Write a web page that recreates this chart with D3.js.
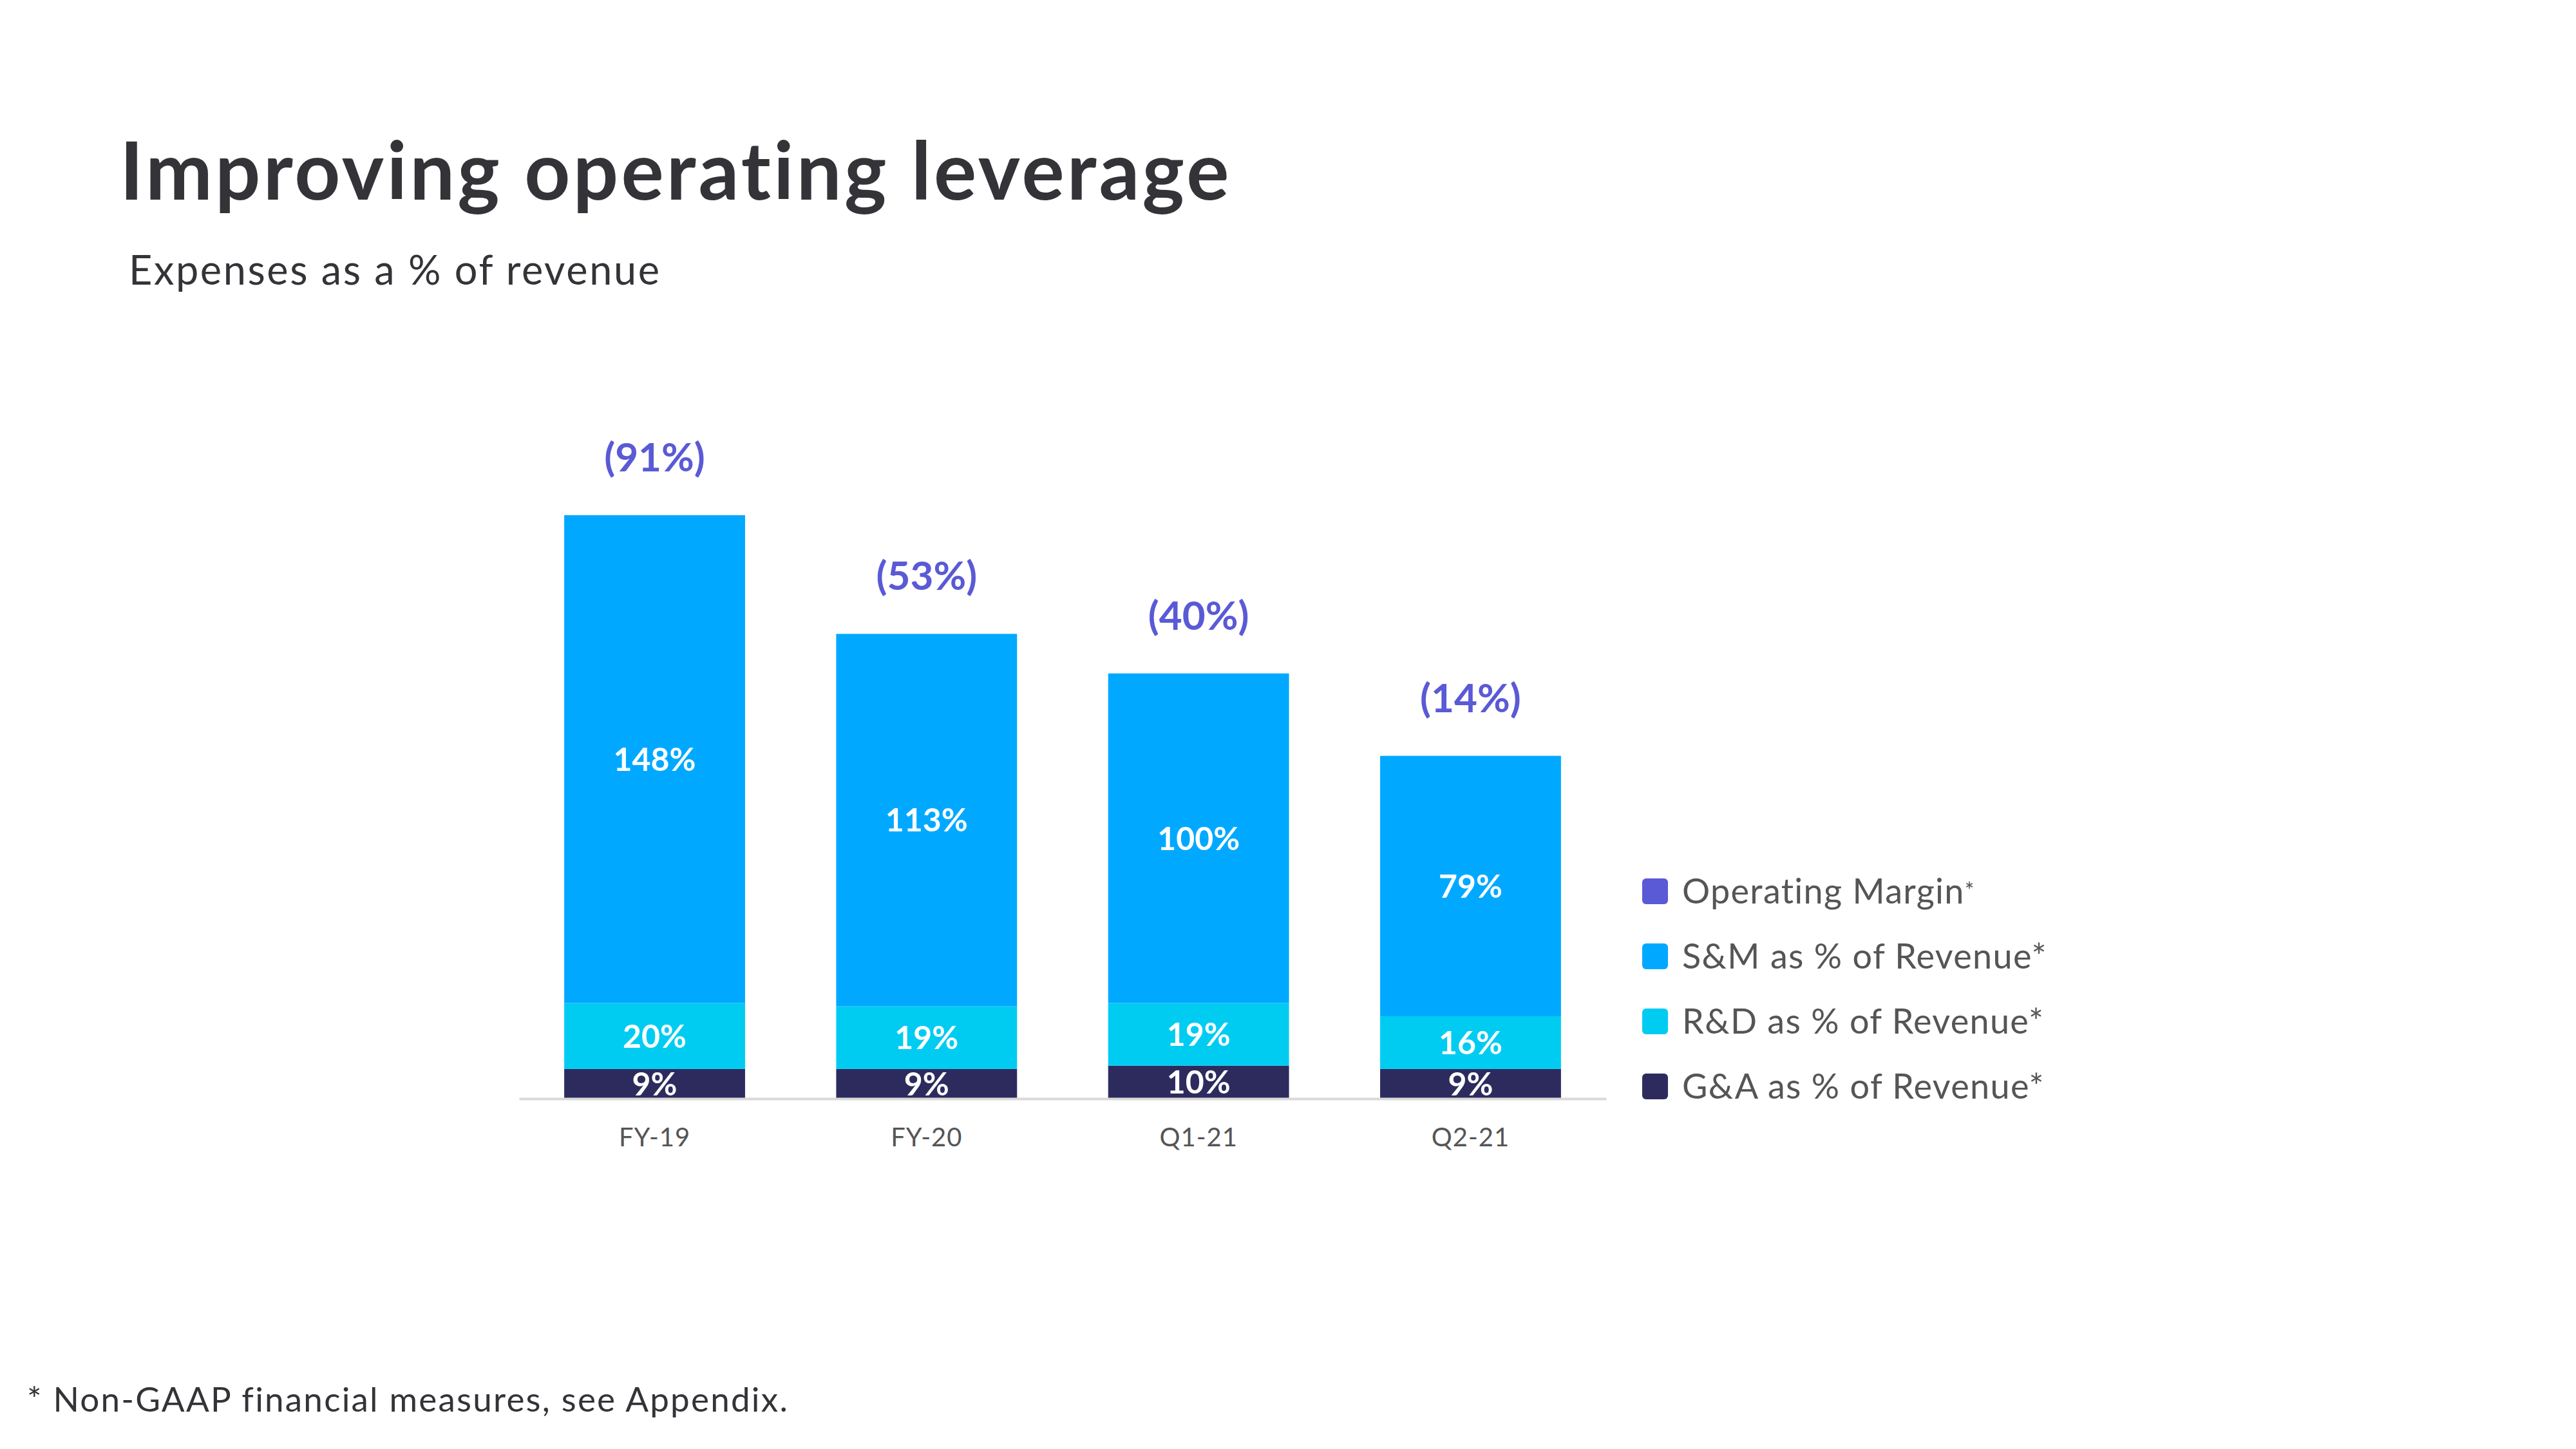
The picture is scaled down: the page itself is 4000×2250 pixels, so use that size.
<!DOCTYPE html>
<html>
<head>
<meta charset="utf-8">
<script src="https://cdn.jsdelivr.net/npm/d3@7"></script>
<style>
  html, body { margin: 0; padding: 0; background: #ffffff; }
  svg { display: block; }
</style>
</head>
<body>
<svg id="chart" width="4000" height="2250"></svg>
<script>
// ---- Data ----
const categories = ["FY-19", "FY-20", "Q1-21", "Q2-21"];
const gaValues = [9, 9, 10, 9];          // G&A as % of revenue
const rdValues = [20, 19, 19, 16];       // R&D as % of revenue
const smValues = [148, 113, 100, 79];    // S&M as % of revenue
const opMarginValues = [-91, -53, -40, -14]; // Operating margin
const seriesNames = ["G&A as % of Revenue", "R&D as % of Revenue", "S&M as % of Revenue"];
const legendLabels = ["Operating Margin", "S&M as % of Revenue", "R&D as % of Revenue", "G&A as % of Revenue"];
const titleText = "Improving operating leverage";
const subtitleText = "Expenses as a % of revenue";
const footnoteText = "* Non-GAAP financial measures, see Appendix.";

// ---- Styles ----
const colors = {
  "G&A as % of Revenue": "#2D2B5E",
  "R&D as % of Revenue": "#00CCF2",
  "S&M as % of Revenue": "#00A9FF",
  "Operating Margin": "#5A5AD6"
};
const fontFamily = "Lato, 'Open Sans', 'Noto Sans', sans-serif";

const svg = d3.select("#chart");

// Title & subtitle
svg.append("text")
  .attr("x", 186).attr("y", 310)
  .attr("font-family", fontFamily).attr("font-size", 124).attr("font-weight", 700)
  .attr("letter-spacing", 4.2)
  .attr("fill", "#333338")
  .text(titleText);

svg.append("text")
  .attr("x", 200).attr("y", 442)
  .attr("font-family", fontFamily).attr("font-size", 63).attr("font-weight", 400)
  .attr("letter-spacing", 2.6)
  .attr("fill", "#333338")
  .text(subtitleText);

// ---- Stack data ----
const rows = categories.map((c, i) => ({
  category: c,
  "G&A as % of Revenue": gaValues[i],
  "R&D as % of Revenue": rdValues[i],
  "S&M as % of Revenue": smValues[i],
  op: opMarginValues[i]
}));

const stacked = d3.stack().keys(seriesNames)(rows);
const maxTotal = d3.max(rows, d => seriesNames.reduce((s, k) => s + d[k], 0));

const x = d3.scaleBand()
  .domain(categories)
  .range([806, 2494])
  .paddingInner(0.335)
  .paddingOuter(0.166);

const y = d3.scaleLinear()
  .domain([0, maxTotal])
  .range([1706, 800]);

// Bars
const layer = svg.append("g").selectAll("g")
  .data(stacked)
  .join("g")
  .attr("fill", d => colors[d.key]);

layer.selectAll("rect")
  .data(d => d.map(v => Object.assign({}, v, { key: d.key })))
  .join("rect")
  .attr("x", d => x(d.data.category))
  .attr("width", x.bandwidth())
  .attr("y", d => y(d[1]))
  .attr("height", d => y(d[0]) - y(d[1]));

// Segment labels
layer.selectAll("text")
  .data(d => d.map(v => Object.assign({}, v, { key: d.key })))
  .join("text")
  .attr("x", d => x(d.data.category) + x.bandwidth() / 2)
  .attr("y", d => (y(d[0]) + y(d[1])) / 2)
  .attr("dy", "0.36em")
  .attr("text-anchor", "middle")
  .attr("font-family", fontFamily)
  .attr("font-size", 50)
  .attr("font-weight", 700)
  .attr("fill", "#ffffff")
  .text(d => (d[1] - d[0]) + "%");

// X axis
const xAxis = svg.append("g")
  .attr("transform", `translate(0,${y(0)})`)
  .call(d3.axisBottom(x).tickSize(0).tickPadding(46));
xAxis.select(".domain").attr("stroke", "#D9D9D9").attr("stroke-width", 4);
xAxis.selectAll("text")
  .attr("font-family", fontFamily)
  .attr("font-size", 40)
  .attr("letter-spacing", 1)
  .attr("fill", "#555555");

// Operating margin labels
svg.append("g").selectAll("text")
  .data(rows)
  .join("text")
  .attr("x", d => x(d.category) + x.bandwidth() / 2)
  .attr("y", d => y(seriesNames.reduce((s, k) => s + d[k], 0)) - 68)
  .attr("text-anchor", "middle")
  .attr("font-family", fontFamily)
  .attr("font-size", 62)
  .attr("font-weight", 700)
  .attr("fill", colors["Operating Margin"])
  .text(d => "(" + Math.abs(d.op) + "%)");

// Legend
const legend = svg.append("g").attr("transform", "translate(2550,1384)");
const legendItem = legend.selectAll("g")
  .data(legendLabels)
  .join("g")
  .attr("transform", (d, i) => `translate(0,${i * 101})`);

legendItem.append("rect")
  .attr("x", 0).attr("y", -20)
  .attr("width", 40).attr("height", 40)
  .attr("rx", 6)
  .attr("fill", d => colors[d]);

const lt = legendItem.append("text")
  .attr("x", 62).attr("y", 0)
  .attr("dy", "0.36em")
  .attr("font-family", fontFamily)
  .attr("font-size", 54)
  .attr("letter-spacing", 1.3)
  .attr("fill", "#555555");
lt.append("tspan").text(d => d);
lt.append("tspan")
  .attr("font-size", (d, i) => i === 0 ? 34 : 54)
  .attr("dy", (d, i) => i === 0 ? -8 : 0)
  .text("*");

// Footnote
svg.append("text")
  .attr("x", 42).attr("y", 2192)
  .attr("font-family", fontFamily).attr("font-size", 53).attr("font-weight", 400)
  .attr("letter-spacing", 2.2)
  .attr("fill", "#333338")
  .text(footnoteText);
</script>
</body>
</html>
